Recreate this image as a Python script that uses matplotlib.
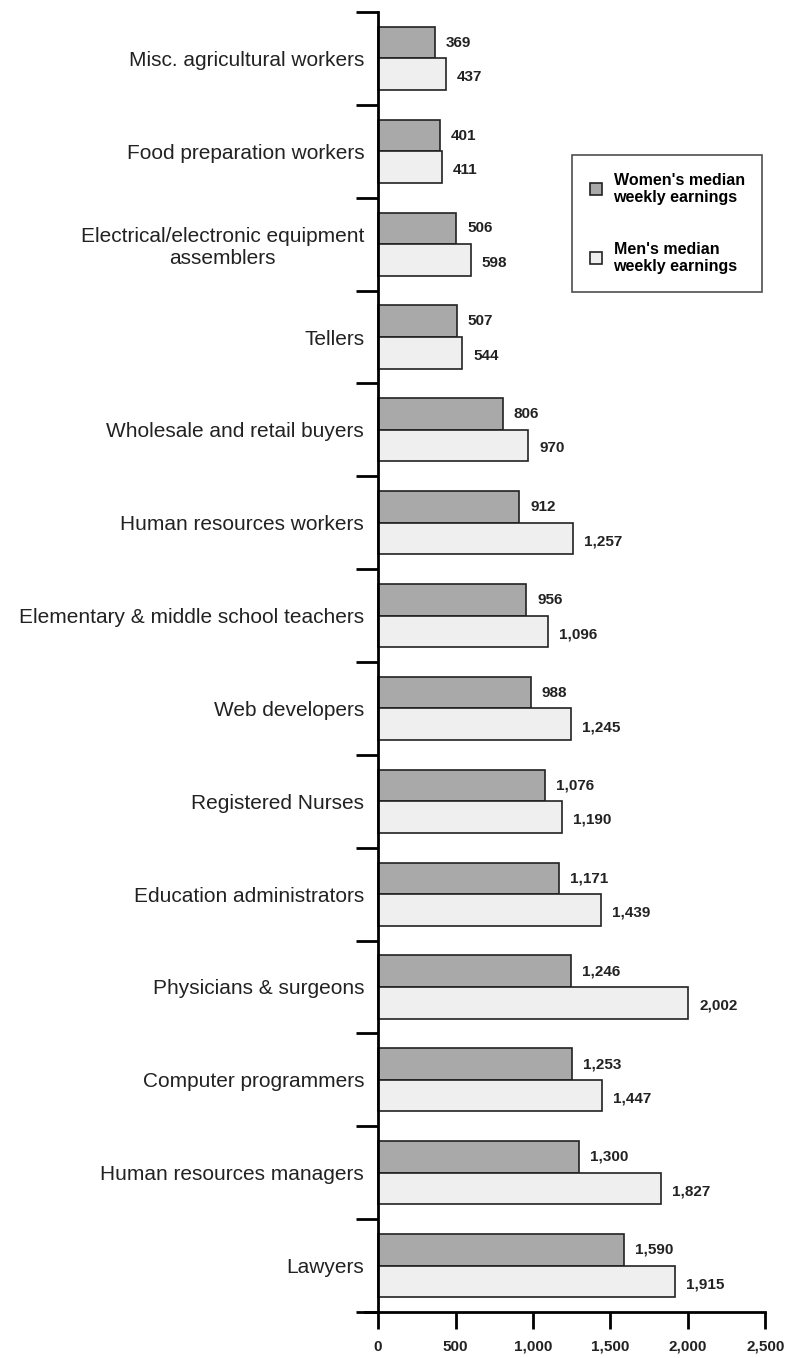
import matplotlib.pyplot as plt
import numpy as np

plt.rcParams['font.family'] = ['Liberation Sans', 'DejaVu Sans']

occupations = [
    'Misc. agricultural workers',
    'Food preparation workers',
    'Electrical/electronic equipment\nassemblers',
    'Tellers',
    'Wholesale and retail buyers',
    'Human resources workers',
    'Elementary & middle school teachers',
    'Web developers',
    'Registered Nurses',
    'Education administrators',
    'Physicians & surgeons',
    'Computer programmers',
    'Human resources managers',
    'Lawyers',
]
women = [369, 401, 506, 507, 806, 912, 956, 988, 1076, 1171, 1246, 1253, 1300, 1590]
men = [437, 411, 598, 544, 970, 1257, 1096, 1245, 1190, 1439, 2002, 1447, 1827, 1915]
xticks = [0, 500, 1000, 1500, 2000, 2500]
xtick_labels = ['0', '500', '1,000', '1,500', '2,000', '2,500']

fig = plt.figure(figsize=(7.87, 13.58), dpi=100)
ax = fig.add_axes([365 / 787, 46 / 1358, (787 - 365) / 787, 1300 / 1358])

y = np.arange(len(occupations))
h = 0.34
ax.barh(y - h / 2, women, height=h, color='#a9a9a9', edgecolor='#222222', linewidth=1.2,
        label="Women's median\nweekly earnings")
ax.barh(y + h / 2, men, height=h, color='#efefef', edgecolor='#222222', linewidth=1.2,
        label="Men's median\nweekly earnings")

for i in range(len(occupations)):
    ax.text(women[i] + 70, y[i] - h / 2, f'{women[i]:,}', va='center', ha='left',
            fontsize=11, fontweight='bold', color='#222222')
    ax.text(men[i] + 70, y[i] + h / 2 + 0.03, f'{men[i]:,}', va='center', ha='left',
            fontsize=11, fontweight='bold', color='#222222')

ax.set_xlim(-84, 2639)
ax.set_ylim(len(occupations) - 0.5, -0.5)

for s in ['top', 'right']:
    ax.spines[s].set_visible(False)
ax.spines['left'].set_position(('data', 0))
ax.spines['left'].set_linewidth(2)
ax.spines['bottom'].set_linewidth(2)
ax.spines['bottom'].set_bounds(-84, 2500)

ax.set_yticks(y)
ax.set_yticklabels(occupations, fontsize=15, multialignment='center', color='#222222')
ax.tick_params(axis='y', which='major', length=0, pad=10)
ax.set_yticks(np.arange(-0.5, len(occupations)), minor=True)
ax.tick_params(axis='y', which='minor', length=16, width=2)

ax.set_xticks(xticks)
ax.set_xticklabels(xtick_labels, fontsize=11, fontweight='bold', color='#222222')
ax.tick_params(axis='x', length=12, width=2, pad=8)

leg = ax.legend(loc='upper left', bbox_to_anchor=(572 / 787, 1 - 155 / 1358),
                bbox_transform=fig.transFigure, frameon=True, fancybox=False,
                prop={'weight': 'bold', 'size': 11.5}, handlelength=0.8, handleheight=0.8,
                labelspacing=2.3, borderpad=1.1, handletextpad=0.7, borderaxespad=0)
leg.get_frame().set_edgecolor('#222222')
leg.get_frame().set_linewidth(1.2)

fig.savefig('out.png', dpi=100)
